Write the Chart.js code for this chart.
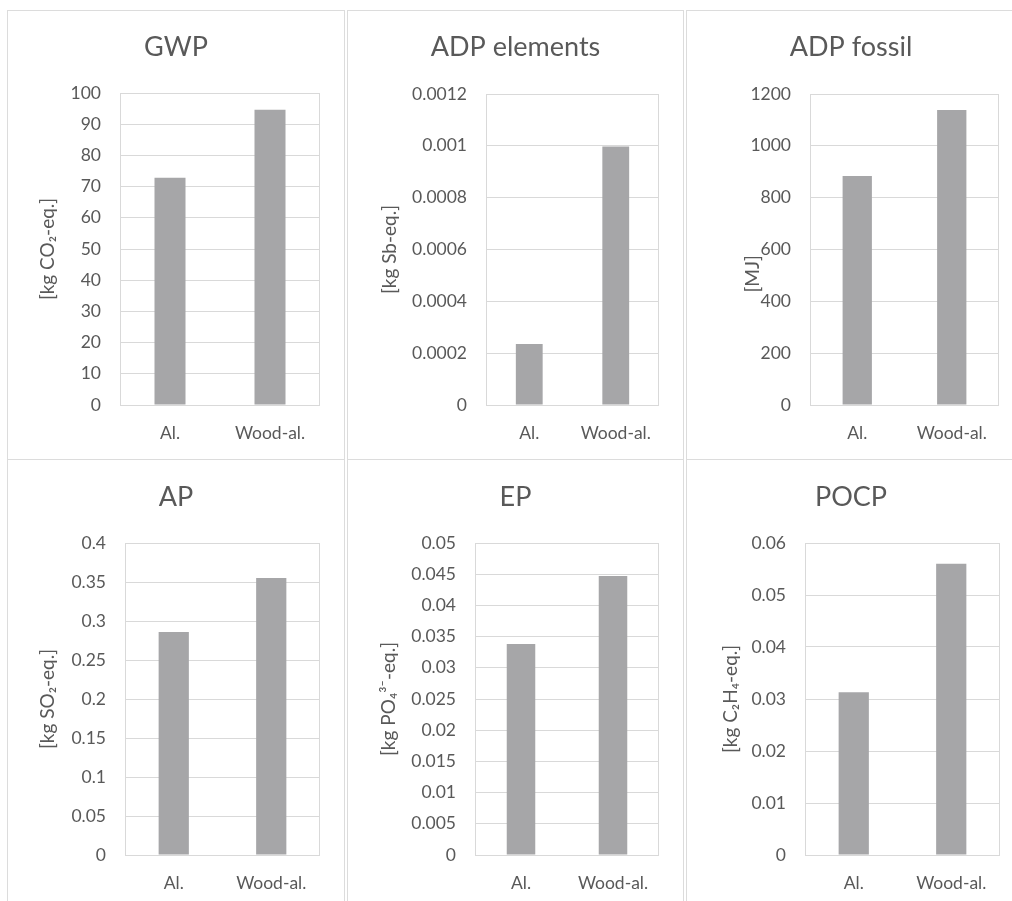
<!DOCTYPE html>
<html><head><meta charset="utf-8">
<script src="https://cdn.jsdelivr.net/npm/chart.js@4"></script>
<style>
html,body{margin:0;padding:0;background:#fff;}
body{width:1012px;height:901px;overflow:hidden;position:relative;}
.panel{position:absolute;border:1px solid #dcdcdc;box-sizing:border-box;}
canvas{position:absolute;}
</style></head><body>
<script>
// ---- data ----
const categories = ['Al.', 'Wood-al.'];
const titles = ['GWP', 'ADP elements', 'ADP fossil', 'AP', 'EP', 'POCP'];
const units = ['[kg CO₂-eq.]', '[kg Sb-eq.]', '[MJ]' + '\u00a0'.repeat(10), '[kg SO₂-eq.]', '[kg PO₄³⁻-eq.]', '[kg C₂H₄-eq.]'];
const gwp = [72.8, 94.6];
const adpElements = [0.000235, 0.000997];
const adpFossil = [884, 1138];
const ap = [0.286, 0.355];
const ep = [0.0338, 0.0447];
const pocp = [0.0313, 0.0560];
const yMax = [100, 0.0012, 1200, 0.4, 0.05, 0.06];
const yStep = [10, 0.0002, 200, 0.05, 0.005, 0.01];
const series = [gwp, adpElements, adpFossil, ap, ep, pocp];

// ---- layout (pixels) ----
const boxes = [[7,10,338,450],[347,10,337,450],[686,10,330,450],
               [7,459,338,460],[347,459,337,460],[686,459,330,460]];
const plots = [[120,93,320,405],[486,94,659,405],[810,94,999,405],
               [125,543,320,855],[475,543,659,855],[805,543,1000,855]];
const titleY = [47,47,47,497,497,497];
const unitX = [48,390,753,48,389,731];

const FONT = 'Lato, "Open Sans", "DejaVu Sans", sans-serif';
const TXT = '#595959';
const GRID = '#d9d9d9';
const BAR = '#a6a6a8';
const TITLE_SIZE = 27, TICK_SIZE = 17.5, UNIT_SIZE = 19;

const frame = {
  id: 'frame',
  afterDatasetsDraw(chart) {
    const a = chart.chartArea, c = chart.ctx;
    c.save(); c.strokeStyle = GRID; c.lineWidth = 1;
    c.strokeRect(Math.round(a.left) + 0.5, Math.round(a.top) + 0.5,
                 Math.round(a.right - a.left) - 1, Math.round(a.bottom - a.top));
    c.restore();
  }
};

for (let i = 0; i < 6; i++) {
  const [bx, by, bw, bh] = boxes[i];
  const div = document.createElement('div');
  div.className = 'panel';
  Object.assign(div.style, {left: bx + 'px', top: by + 'px', width: bw + 'px', height: bh + 'px'});
  document.body.appendChild(div);
  const cx = bx + 1, cy = by + 1, cw = bw - 2, ch = bh - 2;
  const cv = document.createElement('canvas');
  cv.width = cw; cv.height = ch;
  Object.assign(cv.style, {left: cx + 'px', top: cy + 'px', width: cw + 'px', height: ch + 'px'});
  document.body.appendChild(cv);
  const [pl, pt, pr, pb] = plots[i];
  const leftW = pl - cx, topH = pt - cy, rightW = cw - (pr - cx), bottomH = ch - (pb - cy);
  const titleTop = (titleY[i] - cy) - TITLE_SIZE * 1.2 / 2;
  const titleBottom = topH - titleTop - TITLE_SIZE * 1.2;
  const unitPad = (unitX[i] - cx) - UNIT_SIZE * 1.2 / 2;
  new Chart(cv, {
    type: 'bar',
    data: {labels: categories, datasets: [{data: series[i], backgroundColor: BAR,
      barPercentage: 0.31, categoryPercentage: 1}]},
    plugins: [frame],
    options: {
      responsive: false, animation: false, devicePixelRatio: 1,
      layout: {padding: 0},
      plugins: {
        legend: {display: false}, tooltip: {enabled: false},
        title: {display: true, text: titles[i], color: TXT,
          font: {family: FONT, size: TITLE_SIZE, weight: 'normal'},
          padding: {top: titleTop, bottom: titleBottom}}
      },
      scales: {
        x: {grid: {display: false, drawTicks: false}, border: {display: false},
          ticks: {color: TXT, font: {family: FONT, size: TICK_SIZE}, padding: 18},
          afterFit: s => { s.height = bottomH; }},
        y: {min: 0, max: yMax[i],
          grid: {color: GRID, drawTicks: false}, border: {display: false},
          ticks: {stepSize: yStep[i], color: TXT, padding: 19, autoSkip: false,
            font: {family: FONT, size: TICK_SIZE},
            callback: v => String(+Number(v).toFixed(6))},
          title: {display: true, text: units[i], color: TXT,
            font: {family: FONT, size: UNIT_SIZE}, padding: {top: unitPad, bottom: 0}},
          afterFit: s => { s.width = leftW; }},
        gap: {type: 'linear', position: 'right', display: true,
          grid: {display: false, drawTicks: false}, border: {display: false},
          ticks: {display: false},
          afterFit: s => { s.width = rightW; }}
      }
    }
  });
}
</script>
</body></html>
